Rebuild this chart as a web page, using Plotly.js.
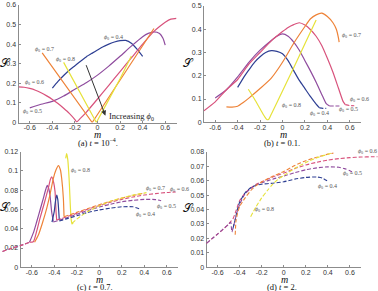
<!DOCTYPE html>
<html>
<head>
<meta charset="utf-8">
<script src="https://cdn.plot.ly/plotly-3.0.1.min.js"></script>
<style>
  html, body { margin: 0; padding: 0; background: #fff; }
  #chart { width: 378px; height: 291px; }
</style>
</head>
<body>
<div id="chart"></div>
<script>
// Entropy-like quantity S against m for initial fractions phi0 = 0.4 ... 0.8,
// at four times t.

const phiLabels = ['0.4', '0.5', '0.6', '0.7', '0.8'];
const xTicks = [-0.6, -0.4, -0.2, 0, 0.2, 0.4, 0.6];
const xTickText = ['-0.6', '-0.4', '-0.2', '0', '0.2', '0.4', '0.6'];
const yTicksA = [0, 0.1, 0.2, 0.3, 0.4, 0.5, 0.6];
const yTicksB = [0, 0.1, 0.2, 0.3, 0.4, 0.5];
const yTicksC = [0, 0.02, 0.04, 0.06, 0.08, 0.1, 0.12];
const yTicksD = [0, 0.01, 0.02, 0.03, 0.04, 0.05, 0.06, 0.07, 0.08];

// ---- (a) t = 1e-4 ----
const a04m = [-0.4, -0.35, -0.3, -0.25, -0.2, -0.15, -0.1, -0.05, 0, 0.05, 0.1, 0.15, 0.2, 0.25, 0.3, 0.35, 0.4];
const a04s = [0.175, 0.21, 0.24, 0.267, 0.29, 0.313, 0.335, 0.353, 0.37, 0.387, 0.4, 0.411, 0.418, 0.419, 0.405, 0.375, 0.338];
const a05m = [-0.6, -0.5, -0.4, -0.3, -0.2, -0.1, 0, 0.1, 0.2, 0.3, 0.4, 0.45, 0.5, 0.55, 0.58, 0.6];
const a05s = [0.075, 0.093, 0.108, 0.135, 0.17, 0.203, 0.242, 0.288, 0.338, 0.39, 0.438, 0.455, 0.463, 0.455, 0.43, 0.395];
const a06m = [-0.7, -0.65, -0.6, -0.55, -0.5, -0.45, -0.4, -0.35, -0.3, -0.25, -0.2, -0.185, -0.15, -0.1, 0, 0.1, 0.2, 0.3, 0.4, 0.5, 0.55, 0.6, 0.65, 0.7];
const a06s = [0.182, 0.18, 0.174, 0.165, 0.152, 0.136, 0.118, 0.097, 0.073, 0.047, 0.015, 0.003, 0.022, 0.052, 0.12, 0.19, 0.26, 0.33, 0.4, 0.465, 0.49, 0.512, 0.528, 0.532];
const a07m = [-0.49, -0.4, -0.3, -0.2, -0.1, -0.047, 0, 0.1, 0.2, 0.3, 0.4, 0.5];
const a07s = [0.356, 0.284, 0.203, 0.123, 0.043, 0.0, 0.041, 0.129, 0.217, 0.304, 0.392, 0.48];
const a08m = [-0.3, -0.2, -0.1, -0.01, 0.1, 0.2, 0.3];
const a08s = [0.307, 0.2, 0.098, 0.0, 0.117, 0.223, 0.34];

// ---- (b) t = 0.1 ----
const b04m = [-0.4, -0.35, -0.3, -0.25, -0.2, -0.15, -0.1, -0.05, 0, 0.05, 0.1, 0.15, 0.2, 0.25, 0.3, 0.33];
const b04s = [0.15, 0.19, 0.225, 0.258, 0.282, 0.3, 0.308, 0.305, 0.295, 0.265, 0.222, 0.18, 0.145, 0.11, 0.078, 0.062];
const b04dm = [0.33, 0.36, 0.39];
const b04ds = [0.062, 0.06, 0.06];
const b05m = [-0.6, -0.5, -0.4, -0.3, -0.2, -0.1, -0.05, 0, 0.05, 0.1, 0.15, 0.2, 0.25, 0.3, 0.35, 0.39, 0.42];
const b05s = [0.105, 0.14, 0.195, 0.258, 0.31, 0.352, 0.37, 0.38, 0.37, 0.345, 0.31, 0.265, 0.22, 0.172, 0.12, 0.08, 0.07];
const b05dm = [0.42, 0.47, 0.52];
const b05ds = [0.07, 0.07, 0.07];
const b06m = [-0.7, -0.6, -0.5, -0.4, -0.3, -0.2, -0.1, 0, 0.05, 0.1, 0.15, 0.2, 0.25, 0.3, 0.35, 0.4, 0.45, 0.5, 0.54, 0.56];
const b06s = [0.05, 0.088, 0.14, 0.184, 0.25, 0.3, 0.35, 0.39, 0.408, 0.42, 0.428, 0.418, 0.398, 0.37, 0.33, 0.275, 0.215, 0.145, 0.09, 0.076];
const b06dm = [0.56, 0.6, 0.64];
const b06ds = [0.076, 0.072, 0.071];
const b07m = [-0.5, -0.45, -0.4, -0.35, -0.3, -0.2, -0.1, 0, 0.1, 0.2, 0.25, 0.3, 0.35, 0.4, 0.45, 0.48, 0.5, 0.505];
const b07s = [0.066, 0.065, 0.069, 0.085, 0.104, 0.145, 0.19, 0.258, 0.34, 0.412, 0.445, 0.462, 0.469, 0.455, 0.428, 0.4, 0.36, 0.345];
const b08m = [-0.305, -0.25, -0.2, -0.16, -0.14, -0.125, -0.1, 0, 0.1, 0.2, 0.3];
const b08s = [0.142, 0.1, 0.058, 0.025, 0.012, 0.012, 0.035, 0.135, 0.235, 0.338, 0.44];

// ---- (c) t = 0.7 ----
const c05lm = [-0.86, -0.8, -0.7, -0.62];
const c05ls = [0.0165, 0.019, 0.0225, 0.026];
const c04m = [-0.42, -0.4, -0.39, -0.378, -0.368, -0.36, -0.355];
const c04s = [0.047, 0.058, 0.068, 0.075, 0.07, 0.058, 0.049];
const c04dm = [-0.355, -0.3, -0.2, -0.1, 0, 0.1, 0.2, 0.3, 0.36];
const c04ds = [0.048, 0.05, 0.0535, 0.057, 0.0595, 0.0615, 0.0628, 0.0628, 0.0605];
const c05m = [-0.62, -0.585, -0.556, -0.525, -0.497, -0.475, -0.462, -0.45, -0.438, -0.423, -0.408];
const c05s = [0.026, 0.036, 0.0473, 0.06, 0.0716, 0.081, 0.085, 0.082, 0.075, 0.0577, 0.0473];
const c05dm = [-0.408, -0.3, -0.2, -0.1, 0, 0.1, 0.2, 0.3, 0.4, 0.5, 0.55];
const c05ds = [0.047, 0.051, 0.055, 0.059, 0.0625, 0.0655, 0.068, 0.0695, 0.0705, 0.0703, 0.069];
const c06m = [-0.62, -0.586, -0.555, -0.527, -0.49, -0.453, -0.435, -0.423, -0.405, -0.393, -0.384, -0.378];
const c06s = [0.026, 0.0266, 0.038, 0.0508, 0.066, 0.082, 0.091, 0.094, 0.088, 0.0785, 0.0577, 0.049];
const c06dm = [-0.378, -0.3, -0.2, -0.1, 0, 0.1, 0.2, 0.3, 0.4, 0.5, 0.6, 0.68];
const c06ds = [0.049, 0.052, 0.056, 0.0605, 0.064, 0.0675, 0.0705, 0.073, 0.075, 0.0765, 0.0777, 0.0782];
const c07m = [-0.575, -0.541, -0.505, -0.467, -0.435, -0.408, -0.385, -0.363, -0.345, -0.334, -0.319, -0.313];
const c07s = [0.026, 0.0335, 0.046, 0.0612, 0.077, 0.0924, 0.101, 0.1055, 0.101, 0.0924, 0.0716, 0.0525];
const c07dm = [-0.313, -0.2, -0.1, 0, 0.1, 0.2, 0.3, 0.4];
const c07ds = [0.0525, 0.057, 0.061, 0.065, 0.0685, 0.0718, 0.0745, 0.077];
const c08m = [-0.298, -0.29, -0.28, -0.272, -0.265, -0.258, -0.25, -0.242, -0.232];
const c08s = [0.113, 0.118, 0.112, 0.1, 0.085, 0.066, 0.05, 0.045, 0.046];
const c08dm = [-0.24, -0.2, -0.1, 0, 0.1, 0.2, 0.3, 0.4, 0.42];
const c08ds = [0.046, 0.05, 0.058, 0.0638, 0.0685, 0.072, 0.075, 0.077, 0.0775];

// ---- (d) t = 2 ----
const d04m = [-0.46, -0.44, -0.42, -0.4, -0.35, -0.3, -0.25, -0.2, -0.1, 0, 0.1, 0.2, 0.3, 0.35, 0.4];
const d04s = [0.027, 0.033, 0.04, 0.045, 0.0515, 0.055, 0.0568, 0.0575, 0.0582, 0.0592, 0.061, 0.0622, 0.0625, 0.0618, 0.0595];
const d05m = [-0.7, -0.6, -0.5, -0.48, -0.475, -0.47, -0.46, -0.44, -0.42, -0.4, -0.35, -0.3, -0.25, -0.2, -0.1, 0, 0.1, 0.2, 0.3, 0.4, 0.5, 0.55, 0.6, 0.62];
const d05s = [0.0166, 0.023, 0.0298, 0.0312, 0.028, 0.0245, 0.027, 0.033, 0.039, 0.0435, 0.051, 0.0545, 0.057, 0.0585, 0.061, 0.0632, 0.0655, 0.0675, 0.0688, 0.0695, 0.0692, 0.0683, 0.0668, 0.066];
const d06m = [-0.7, -0.65, -0.6, -0.55, -0.5, -0.48, -0.46, -0.44, -0.42, -0.4, -0.35, -0.3, -0.25, -0.2, -0.1, 0, 0.1, 0.2, 0.3, 0.4, 0.5, 0.6, 0.7, 0.8, 0.85];
const d06s = [0.0166, 0.0198, 0.023, 0.0262, 0.0298, 0.0318, 0.0335, 0.0375, 0.042, 0.046, 0.0515, 0.055, 0.0575, 0.0592, 0.0625, 0.0652, 0.0683, 0.0708, 0.0727, 0.0742, 0.0752, 0.0759, 0.0763, 0.0765, 0.0765];
const d07m = [-0.44, -0.437, -0.433, -0.42, -0.4, -0.35, -0.3, -0.25, -0.2, -0.1, 0, 0.1, 0.2, 0.3, 0.4, 0.45];
const d07s = [0.0225, 0.027, 0.032, 0.037, 0.042, 0.048, 0.053, 0.0565, 0.059, 0.063, 0.0663, 0.0705, 0.0738, 0.0762, 0.0783, 0.079];
const d08m = [-0.3, -0.25, -0.2, -0.15, -0.1, -0.05, 0, 0.1, 0.2, 0.3, 0.4, 0.43];
const d08s = [0.035, 0.042, 0.048, 0.053, 0.0575, 0.061, 0.0635, 0.0685, 0.0725, 0.0758, 0.0782, 0.079];

// ---- layout geometry in pixels: [left, right, top, bottom] ----
const W = 378, H = 291;
const boxA = [18.5, 176.5, 5, 122.5];
const boxB = [204, 361, 6, 122.3];
const boxC = [20.5, 178, 151.7, 267.3];
const boxD = [206.5, 361, 151.7, 267.3];
const xdom = b => [b[0] / W, b[1] / W];
const ydom = b => [1 - b[3] / H, 1 - b[2] / H];

// wider invisible axes so the long curves of (c) and (d) can run past the frame
function wideRange(b, l, r) {
  const u = (b[1] - b[0]) / 1.4;
  return [-0.7 - (b[0] - l) / u, 0.7 + (r - b[1]) / u];
}

const colors = ['#2e3f93', '#8f4c9e', '#d8527c', '#ee8338', '#e6e23a'];
const SOLID = 1.2, DASHW = 1.1, DASH = '4px,2px';

function line(x, y, ci, ax, dashed) {
  return {
    x: x, y: y, type: 'scatter', mode: 'lines',
    xaxis: ax[0], yaxis: ax[1], hoverinfo: 'skip', showlegend: false,
    line: { color: colors[ci], width: dashed ? DASHW : SOLID, dash: dashed ? DASH : 'solid', shape: 'spline', smoothing: 0.6 }
  };
}
function straight(x, y, ci, ax) {
  const t = line(x, y, ci, ax, false);
  t.line.shape = 'linear';
  return t;
}

const A = ['x', 'y'], B = ['x2', 'y2'], C = ['x5', 'y5'], D = ['x6', 'y6'];

const traces = [
  // (a)
  line(a04m, a04s, 0, A), line(a05m, a05s, 1, A), line(a06m, a06s, 2, A),
  straight(a07m, a07s, 3, A), straight(a08m, a08s, 4, A),
  // (b)
  line(b04m, b04s, 0, B), line(b04dm, b04ds, 0, B, true),
  line(b05m, b05s, 1, B), line(b05dm, b05ds, 1, B, true),
  line(b06m, b06s, 2, B), line(b06dm, b06ds, 2, B, true),
  line(b07m, b07s, 3, B), line(b08m, b08s, 4, B),
  // (c)
  line(c05lm, c05ls, 1, C, true), line(c05lm, c05ls, 2, C, true),
  line(c05m, c05s, 1, C), line(c06m, c06s, 2, C), line(c07m, c07s, 3, C),
  line(c04m, c04s, 0, C), line(c08m, c08s, 4, C),
  line(c05dm, c05ds, 1, C, true), line(c06dm, c06ds, 2, C, true),
  line(c04dm, c04ds, 0, C, true), line(c07dm, c07ds, 3, C, true), line(c08dm, c08ds, 4, C, true),
  // (d)
  line(d06m, d06s, 2, D, true), line(d05m, d05s, 1, D, true), line(d04m, d04s, 0, D, true),
  line(d07m, d07s, 3, D, true), line(d08m, d08s, 4, D, true)
];

const tickFont = { family: 'Liberation Sans, Arial, sans-serif', size: 7, color: '#333' };
function xa(b, yref) {
  return {
    domain: xdom(b), range: [-0.7, 0.7], anchor: yref,
    tickvals: xTicks, ticktext: xTickText, ticks: 'inside', ticklen: 2, tickcolor: '#8c8c8c',
    ticklabelstandoff: -2,
    showline: true, linecolor: '#8c8c8c', linewidth: 1, showgrid: false, zeroline: false,
    tickfont: tickFont, fixedrange: true
  };
}
function ya(b, xref, top, vals) {
  return {
    domain: ydom(b), range: [0, top], anchor: xref,
    tickvals: vals, ticktext: vals.map(v => String(v)), ticks: 'inside', ticklen: 2, tickcolor: '#8c8c8c',
    showline: true, linecolor: '#8c8c8c', linewidth: 1, showgrid: false, zeroline: false,
    tickfont: tickFont, fixedrange: true
  };
}
function hidden(dom, range, anchor) {
  return { domain: dom, range: range, anchor: anchor, visible: false, fixedrange: true };
}

const serif = 'Liberation Serif, DejaVu Serif, serif';
const labFont = { family: serif, size: 6, color: '#555' };
function phiLabel(i, x, y, ax) {
  return {
    xref: ax[0], yref: ax[1], x: x, y: y, showarrow: false, font: labFont,
    text: '<i>ϕ</i><sub>0</sub> = ' + phiLabels[i]
  };
}
function paperText(text, px, py, size, italic) {
  return {
    xref: 'paper', yref: 'paper', x: px / W, y: 1 - py / H, xanchor: 'center', yanchor: 'middle',
    showarrow: false, text: italic ? '<i>' + text + '</i>' : text,
    font: { family: serif, size: size, color: '#111' }
  };
}

const annotations = [
  // (a)
  phiLabel(0, 0.144, 0.435, A), phiLabel(3, -0.473, 0.373, A), phiLabel(4, -0.285, 0.322, A),
  phiLabel(2, -0.562, 0.203, A), phiLabel(1, -0.576, 0.055, A),
  {
    xref: 'x', yref: 'y', axref: 'x', ayref: 'y', x: 0.07, y: 0.035, ax: -0.127, ay: 0.333,
    text: ' ', showarrow: true, arrowhead: 2, arrowsize: 1, arrowwidth: 1, arrowcolor: '#333', standoff: 0, startstandoff: 0
  },
  {
    xref: 'x', yref: 'y', x: 0.082, y: 0.033, xanchor: 'left', yanchor: 'middle', showarrow: false,
    text: 'Increasing <i>ϕ</i><sub>0</sub>', font: { family: serif, size: 8.5, color: '#222' }
  },
  // (b)
  phiLabel(3, 0.617, 0.375, B), phiLabel(2, 0.689, 0.096, B), phiLabel(1, 0.587, 0.053, B),
  phiLabel(0, 0.326, 0.039, B), phiLabel(4, 0.079, 0.074, B),
  // (c)
  phiLabel(4, -0.165, 0.101, C), phiLabel(3, 0.496, 0.082, C), phiLabel(2, 0.709, 0.081, C),
  phiLabel(1, 0.6, 0.0636, C), phiLabel(0, 0.407, 0.055, C),
  // (d)
  phiLabel(3, 0.47, 0.081, D), phiLabel(2, 0.757, 0.08, D), phiLabel(1, 0.62, 0.065, D),
  phiLabel(0, 0.394, 0.0558, D), phiLabel(4, -0.176, 0.0397, D),
  // axis titles and captions
  paperText('𝒮', 5.5, 63, 12), paperText('𝒮', 188.5, 63, 12),
  paperText('𝒮', 5, 207, 12), paperText('𝒮', 188, 208, 12),
  paperText('m', 97.3, 134.5, 10, true), paperText('m', 283.3, 134.5, 10, true),
  paperText('m', 99, 279, 10, true), paperText('m', 284.7, 279, 10, true),
  paperText('(a) <i>t</i> = 10<sup>−4</sup>.', 98, 142.5, 8.5),
  paperText('(b) <i>t</i> = 0.1.', 282.3, 143, 8.5),
  paperText('(c) <i>t</i> = 0.7.', 95, 287, 8.5),
  paperText('(d) <i>t</i> = 2.', 282, 287, 8.5)
];

const layout = {
  width: W, height: H, margin: { l: 0, r: 0, t: 0, b: 0 },
  paper_bgcolor: '#ffffff', plot_bgcolor: 'rgba(0,0,0,0)', showlegend: false,
  xaxis: xa(boxA, 'y'), yaxis: ya(boxA, 'x', 0.6, yTicksA),
  xaxis2: xa(boxB, 'y2'), yaxis2: ya(boxB, 'x2', 0.5, yTicksB),
  xaxis3: xa(boxC, 'y3'), yaxis3: ya(boxC, 'x3', 0.12, yTicksC),
  xaxis4: xa(boxD, 'y4'), yaxis4: ya(boxD, 'x4', 0.08, yTicksD),
  xaxis5: hidden([0, 189 / W], wideRange(boxC, 0, 189), 'y5'),
  yaxis5: hidden(ydom(boxC), [0, 0.12], 'x5'),
  xaxis6: hidden([189 / W, 1], wideRange(boxD, 189, 378), 'y6'),
  yaxis6: hidden(ydom(boxD), [0, 0.08], 'x6'),
  annotations: annotations
};

// empty traces keep the framed axes of (c) and (d) on the page
traces.push({ x: [], y: [], type: 'scatter', xaxis: 'x3', yaxis: 'y3', showlegend: false });
traces.push({ x: [], y: [], type: 'scatter', xaxis: 'x4', yaxis: 'y4', showlegend: false });

Plotly.newPlot('chart', traces, layout, { staticPlot: true, displayModeBar: false });
</script>
</body>
</html>
